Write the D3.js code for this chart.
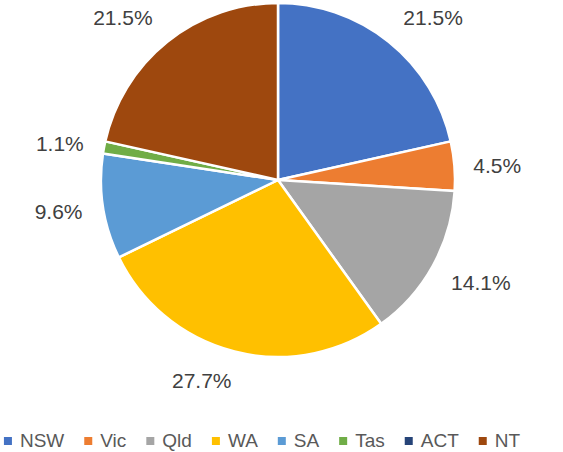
<!DOCTYPE html>
<html>
<head>
<meta charset="utf-8">
<script src="https://cdn.jsdelivr.net/npm/d3@7"></script>
<style>
  body { margin: 0; background: #fff; }
  svg { display: block; font-family: "Liberation Sans", Arial, sans-serif; }
</style>
</head>
<body>
<div class="piechart"></div>
<script>
const states = ['NSW', 'Vic', 'Qld', 'WA', 'SA', 'Tas', 'ACT', 'NT'];
const shares = [21.5, 4.5, 14.1, 27.7, 9.6, 1.1, 0, 21.5];
const colours = ['#4472C4', '#ED7D31', '#A5A5A5', '#FFC000', '#5B9BD5', '#70AD47', '#264478', '#9E480E'];

// small hand nudges so the labels sit where Excel put them
const labelNudge = [[0, 0], [-5, 3], [6, -7], [-21, -18], [3, -2], [3, 5], [0, 0], [0, 0]];

const width = 563;
const height = 452;
const cx = 278, cy = 180, radius = 177;
const labelRadius = 225;

const svg = d3.select('.piechart').append('svg')
    .attr('width', width)
    .attr('height', height);

const pie = d3.pie().sort(null).value(d => d.value);
const arcs = pie(states.map((s, i) => ({ state: s, value: shares[i], i })));

const arc = d3.arc().innerRadius(0).outerRadius(radius);

const g = svg.append('g').attr('transform', `translate(${cx},${cy})`);

g.selectAll('path')
    .data(arcs.filter(d => d.data.value > 0))
    .join('path')
    .attr('d', arc)
    .attr('fill', d => colours[d.data.i])
    .attr('stroke', '#fff')
    .attr('stroke-width', 2.5)
    .attr('stroke-linejoin', 'round');

// labels
g.selectAll('text.lbl')
    .data(arcs.filter(d => d.data.value > 0))
    .join('text')
    .attr('class', 'lbl')
    .each(function (d) {
        const a = (d.startAngle + d.endAngle) / 2;
        let x = labelRadius * Math.sin(a);
        let y = -labelRadius * Math.cos(a);
        if (y < 17 - cy) {
            y = 17 - cy;
            x = Math.sign(x) * Math.sqrt(labelRadius * labelRadius - y * y);
        }
        const n = labelNudge[d.data.i];
        d3.select(this)
            .attr('x', x + n[0])
            .attr('y', y + n[1])
            .attr('dy', '0.36em');
    })
    .attr('text-anchor', 'middle')
    .attr('font-size', 21)
    .attr('fill', '#404040')
    .text(d => d.data.value.toFixed(1) + '%');

// legend
const legend = svg.append('g').attr('class', 'legend');
const items = legend.selectAll('g')
    .data(states)
    .join('g');

items.append('rect')
    .attr('width', 8)
    .attr('height', 8)
    .attr('y', 437)
    .attr('fill', (d, i) => colours[i]);

items.append('text')
    .attr('x', 16)
    .attr('y', 447)
    .attr('font-size', 19)
    .attr('fill', '#595959')
    .text(d => d);

let xPos = 0;
const offsets = [];
items.each(function () {
    offsets.push(xPos);
    const w = d3.select(this).select('text').node().getComputedTextLength();
    xPos += 16 + w + 20;
});
const total = xPos - 20;
const startX = 262 - total / 2;
items.attr('transform', (d, i) => `translate(${startX + offsets[i]},0)`);
</script>
</body>
</html>
